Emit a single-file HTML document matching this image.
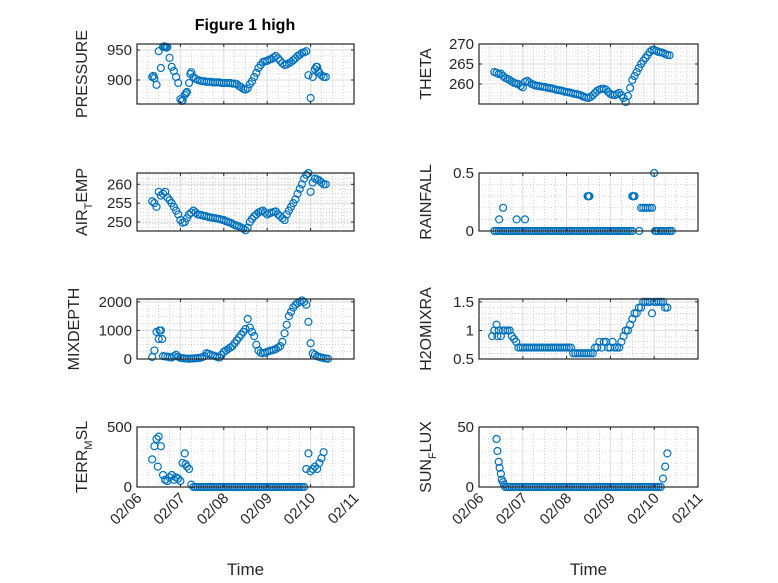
<!DOCTYPE html>
<html><head><meta charset="utf-8"><style>
html,body{margin:0;padding:0;background:#fff}
svg{display:block;font-family:"Liberation Sans","DejaVu Sans",sans-serif}
</style></head><body>
<svg id="fig" width="778" height="583" viewBox="0 0 778 583">
<rect width="778" height="583" fill="#fff"/>
<text x="245" y="30" text-anchor="middle" font-weight="bold" font-size="16" fill="#000">Figure 1 high</text>
</svg>
<script>
const xTickLabels=['02/06','02/07','02/08','02/09','02/10','02/11'];
const G=[0.35,0.40,0.45,0.50,0.55,0.60,0.65,0.70,0.75,0.80,
0.85,0.90,0.95,1.00,1.05,1.10,1.15,1.20,1.25,1.30,
1.35,1.40,1.45,1.50,1.55,1.60,1.65,1.70,1.75,1.80,
1.85,1.90,1.95,2.00,2.05,2.10,2.15,2.20,2.25,2.30,
2.35,2.40,2.45,2.50,2.55,2.60,2.65,2.70,2.75,2.80,
2.85,2.90,2.95,3.00,3.05,3.10,3.15,3.20,3.25,3.30,
3.35,3.40,3.45,3.50,3.55,3.60,3.65,3.70,3.75,3.80,
3.85,3.90,3.95,4.00,4.05,4.10,4.15,4.20,4.25,4.30,
4.35,4.40];
const vP=[905,903,892,948,920,955,955,955,937,922,
915,905,895,868,866,875,880,895,913,905,
902,900,899,898,898,897,897,897,896,896,
896,896,895,895,895,895,895,894,894,893,
890,888,885,884,886,893,898,905,912,920,
925,930,931,932,934,935,938,940,936,932,
928,925,926,928,930,933,936,940,942,945,
946,948,908,870,905,918,922,912,908,905,
905,null];
const tPx=[0.38,0.63,0.68,1.03,1.13,1.23,4.13,4.18];
const vPx=[907,956,954,865,878,910,922,915];
const vTh=[263,262.8,262.5,262.6,262,261.5,261.3,261,260.6,260.3,
260.1,260,259.5,259.2,260.5,260.8,260.4,260,259.8,259.6,
259.5,259.4,259.3,259.3,259.1,259,258.9,258.8,258.6,258.5,
258.4,258.3,258.1,258,257.9,257.8,257.6,257.5,257.4,257.3,
257,256.8,256.6,256.5,256.8,257.2,257.8,258.3,258.6,258.8,
258.8,258.6,258,257.5,257.3,257.2,257.5,257.8,257.2,256.5,
255.5,257,259,261,262,263,264,265,265.8,266.5,
267.2,268,268.5,268.5,268.3,268,267.9,267.8,267.5,267.3,
267.2,null];
const vAT=[255.5,255,254,258,257,257.5,258,256.5,255.8,255,
254,253,252,250.5,249.8,250,251,252,252.5,253,
252.5,252,251.9,251.8,251.6,251.5,251.3,251.2,251.1,251,
250.9,250.8,250.6,250.5,250.2,250,249.8,249.5,249.2,249,
248.8,248.5,248.2,247.8,248.5,250,250.8,251.5,252,252.5,
252.8,253,252.5,252,252.3,252.5,252.7,252.8,252,251.5,
251,250.5,252,253,254,255,256,257.5,258.8,260,
261.5,262.5,263,258,260.5,261.5,261.3,261,260.5,260,
260,null];
const vRF=[0,0,0,0,0,0,0,0,0,0,
0,0,0,0,0,0,0,0,0,0,
0,0,0,0,0,0,0,0,0,0,
0,0,0,0,0,0,0,0,0,0,
0,0,0,0,0,0,0,0,0,0,
0,0,0,0,0,0,0,0,0,0,
0,0,0,0,null,null,null,null,null,null,
null,null,null,null,0,0,0,0,0,0,
0,0];
const tRFx=[0.46,0.55,0.86,1.05,2.48,2.5,2.52,3.5,3.52,3.55,3.66,3.7,3.75,3.8,3.85,3.9,3.95,4.0,4.02];
const vRFx=[0.1,0.2,0.1,0.1,0.3,0.3,0.3,0.3,0.3,0.3,0,0.2,0.2,0.2,0.2,0.2,0.2,0.5,0];
const vMD=[70,300,950,700,1000,100,90,80,60,50,
100,150,80,40,30,20,15,10,15,20,
25,30,40,60,100,200,180,150,120,100,
70,50,150,250,300,350,400,450,550,650,
750,850,950,1050,1400,1100,950,800,500,300,
220,200,220,250,280,300,320,350,400,450,
600,900,1200,1500,1650,1800,1900,1950,2000,2050,
2000,1900,1300,550,200,150,100,70,50,30,
20,10];
const tMDx=[0.52,0.58];
const vMDx=[1000,700];
const vH2=[1.0,1.1,1.0,0.9,1.0,1.0,1.0,1.0,0.9,0.85,
0.8,0.7,0.7,0.7,0.7,0.7,0.7,0.7,0.7,0.7,
0.7,0.7,0.7,0.7,0.7,0.7,0.7,0.7,0.7,0.7,
0.7,0.7,0.7,0.7,0.7,0.7,0.6,0.6,0.6,0.6,
0.6,0.6,0.6,0.6,0.6,0.6,0.7,0.7,0.8,0.7,
0.8,0.8,0.7,0.7,0.8,0.7,0.7,0.7,0.8,0.9,
1.0,1.0,1.1,1.2,1.3,1.3,1.4,1.4,1.5,1.5,
1.5,1.5,1.3,1.5,1.5,1.5,1.5,1.5,1.4,1.4,
null,null];
const tH2x=[0.3,0.42];
const vH2x=[0.9,0.9];
const vTM=[230,340,400,420,340,100,60,50,80,100,
60,80,70,50,200,280,170,150,20,0,
0,0,0,0,0,0,0,0,0,0,
0,0,0,0,0,0,0,0,0,0,
0,0,0,0,0,0,0,0,0,0,
0,0,0,0,0,0,0,0,0,0,
0,0,0,0,0,0,0,0,0,0,
0,150,280,130,150,170,150,200,240,290,
null,null];
const tTMx=[0.48,0.65,1.12];
const vTMx=[170,60,190];
const vSF=[null,40,21,11,4,0,0,0,0,0,
0,0,0,0,0,0,0,0,0,0,
0,0,0,0,0,0,0,0,0,0,
0,0,0,0,0,0,0,0,0,0,
0,0,0,0,0,0,0,0,0,0,
0,0,0,0,0,0,0,0,0,0,
0,0,0,0,0,0,0,0,0,0,
0,0,0,0,0,0,0,7,17,28,
null,null];
const tSFx=[0.42,0.47,0.52,0.57];
const vSFx=[30,16,6,2];

const NS='http://www.w3.org/2000/svg';
const svg=document.getElementById('fig');
function mk(tag,attrs,parent){const e=document.createElementNS(NS,tag);for(const k in attrs)e.setAttribute(k,attrs[k]);(parent||svg).appendChild(e);return e;}

function axes(cfg){
  const g=mk('g',{});
  
  
  const X=t=>cfg.x0+(cfg.x1-cfg.x0)*t/5;
  const Y=v=>cfg.y1-(cfg.y1-cfg.y0)*(v-cfg.ymin)/(cfg.ymax-cfg.ymin);
  mk('rect',{x:cfg.x0,y:cfg.y0,width:cfg.x1-cfg.x0,height:cfg.y1-cfg.y0,fill:'#fff'},g);
  for(let t=0.25;t<5;t+=0.25){if(Math.abs(t-Math.round(t))<1e-6)continue;
    mk('line',{x1:X(t),x2:X(t),y1:cfg.y0,y2:cfg.y1,stroke:'#b8b8b8','stroke-width':0.6,'stroke-dasharray':'1,2'},g);}
  for(let v=cfg.ymin+cfg.minor;v<cfg.ymax-1e-9;v+=cfg.minor){
    mk('line',{x1:cfg.x0,x2:cfg.x1,y1:Y(v),y2:Y(v),stroke:'#b8b8b8','stroke-width':0.6,'stroke-dasharray':'1,2'},g);}
  for(let i=1;i<5;i++)mk('line',{x1:X(i),x2:X(i),y1:cfg.y0,y2:cfg.y1,stroke:'#dcdcdc','stroke-width':1},g);
  cfg.yticks.forEach(v=>{mk('line',{x1:cfg.x0,x2:cfg.x1,y1:Y(v),y2:Y(v),stroke:'#dcdcdc','stroke-width':1},g);});
  const pg=mk('g',{},g);
  
  
  const draw=(ts,vs)=>ts.forEach((t,i)=>{const v=vs[i];if(v===null||v===undefined)return;
    const c=mk('circle',{cx:X(t),cy:Y(v),r:3.5,fill:'none',stroke:'#0072BD','stroke-width':1.2},pg);
    
    });
  draw(G,cfg.v);
  if(cfg.tx)draw(cfg.tx,cfg.vx);
  mk('rect',{x:cfg.x0,y:cfg.y0,width:cfg.x1-cfg.x0,height:cfg.y1-cfg.y0,fill:'none',stroke:'#262626','stroke-width':1.2},g);
  for(let i=1;i<5;i++){mk('line',{x1:X(i),x2:X(i),y1:cfg.y1,y2:cfg.y1-3,stroke:'#262626'},g);mk('line',{x1:X(i),x2:X(i),y1:cfg.y0,y2:cfg.y0+3,stroke:'#262626'},g);}
  cfg.yticks.forEach((v,i)=>{
    mk('line',{x1:cfg.x0,x2:cfg.x0+3,y1:Y(v),y2:Y(v),stroke:'#262626'},g);
    mk('line',{x1:cfg.x1,x2:cfg.x1-3,y1:Y(v),y2:Y(v),stroke:'#262626'},g);
    const tx=mk('text',{x:cfg.x0-5,y:Y(v)+5,'text-anchor':'end','font-size':15,fill:'#262626'},g);
    tx.textContent=cfg.ylabels[i];
    
    
  });
  const lx=cfg.x0-cfg.lab, ly=(cfg.y0+cfg.y1)/2;
  const yl=mk('text',{x:lx,y:ly,'text-anchor':'middle','font-size':16,fill:'#262626',transform:`rotate(-90 ${lx} ${ly})`},g);
  
  
  if(cfg.sub){const a=mk('tspan',{},yl);a.textContent=cfg.sub[0];
    const b=mk('tspan',{dy:5,'font-size':11},yl);b.textContent=cfg.sub[1];
    const c=mk('tspan',{dy:-5},yl);c.textContent=cfg.sub[2];}
  else yl.textContent=cfg.label;
  if(cfg.xlab){
    xTickLabels.forEach((s,i)=>{const px=X(i),py=cfg.y1+12;
      const tx=mk('text',{x:px+4,y:py+4,'text-anchor':'end','font-size':15,fill:'#262626',transform:`rotate(-45 ${px} ${py})`},g);
      tx.textContent=s;
      
      });
    const xt=mk('text',{x:(cfg.x0+cfg.x1)/2,y:575,'text-anchor':'middle','font-size':17,fill:'#262626'},g);
    xt.textContent='Time';
    
    
  }
}
const L=[137,354],R=[479,698];
axes({name:'pressure',x0:L[0],x1:L[1],y0:44,y1:104,ymin:860,ymax:960,yticks:[900,950],ylabels:['900','950'],minor:10,v:vP,tx:tPx,vx:vPx,label:'PRESSURE',lab:50});
axes({name:'theta',x0:R[0],x1:R[1],y0:44,y1:104,ymin:255,ymax:270,yticks:[260,265,270],ylabels:['260','265','270'],minor:1,v:vTh,label:'THETA',lab:48});
axes({name:'air-temp',x0:L[0],x1:L[1],y0:173,y1:231,ymin:247.6,ymax:263,yticks:[250,255,260],ylabels:['250','255','260'],minor:1,v:vAT,sub:['AIR','T','EMP'],lab:50});
axes({name:'rainfall',x0:R[0],x1:R[1],y0:173,y1:231,ymin:0,ymax:0.5,yticks:[0,0.5],ylabels:['0','0.5'],minor:0.1,v:vRF,tx:tRFx,vx:vRFx,label:'RAINFALL',lab:48});
axes({name:'mixdepth',x0:L[0],x1:L[1],y0:299,y1:359,ymin:0,ymax:2100,yticks:[0,1000,2000],ylabels:['0','1000','2000'],minor:250,v:vMD,tx:tMDx,vx:vMDx,label:'MIXDEPTH',lab:58});
axes({name:'h2omixra',x0:R[0],x1:R[1],y0:299,y1:359,ymin:0.5,ymax:1.55,yticks:[0.5,1,1.5],ylabels:['0.5','1','1.5'],minor:0.1,v:vH2,tx:tH2x,vx:vH2x,label:'H2OMIXRA',lab:48});
axes({name:'terr-msl',x0:L[0],x1:L[1],y0:427,y1:487,ymin:0,ymax:500,yticks:[0,500],ylabels:['0','500'],minor:100,v:vTM,tx:tTMx,vx:vTMx,sub:['TERR','M','SL'],lab:50,xlab:true});
axes({name:'sun-flux',x0:R[0],x1:R[1],y0:427,y1:487,ymin:0,ymax:50,yticks:[0,50],ylabels:['0','50'],minor:10,v:vSF,tx:tSFx,vx:vSFx,sub:['SUN','F','LUX'],lab:48,xlab:true});
</script>
</body></html>
